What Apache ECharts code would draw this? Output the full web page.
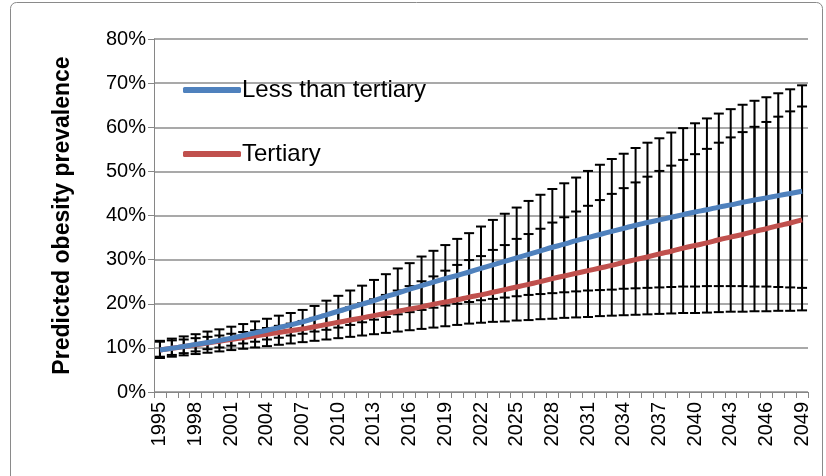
<!DOCTYPE html>
<html><head><meta charset="utf-8">
<script src="https://cdn.jsdelivr.net/npm/echarts@6/dist/echarts.min.js"></script>
<style>html,body{margin:0;padding:0;background:#fff}#c{width:826px;height:476px}</style>
</head><body><div id="c"></div>
<script>
const years = ['1995','1996','1997','1998','1999','2000','2001','2002','2003','2004','2005','2006','2007','2008','2009','2010','2011','2012','2013','2014','2015','2016','2017','2018','2019','2020','2021','2022','2023','2024','2025','2026','2027','2028','2029','2030','2031','2032','2033','2034','2035','2036','2037','2038','2039','2040','2041','2042','2043','2044','2045','2046','2047','2048','2049'];
const seriesNames = ['Less than tertiary', 'Tertiary'];
const yTicks = [0, 10, 20, 30, 40, 50, 60, 70, 80];
// Less than tertiary (percent)
const lessMean = [9.5,9.9,10.3,10.8,11.2,11.7,12.2,12.8,13.4,14.0,14.6,15.2,15.9,16.7,17.5,18.3,19.1,19.9,20.7,21.6,22.4,23.3,24.1,24.9,25.7,26.4,27.2,28.0,28.8,29.6,30.4,31.2,32.0,32.8,33.5,34.3,35.0,35.7,36.4,37.1,37.8,38.4,39.0,39.6,40.2,40.8,41.3,41.9,42.4,43.0,43.5,44.0,44.5,45.0,45.5];
const lessUpper = [11.6,12.1,12.6,13.1,13.7,14.2,14.8,15.4,16.0,16.6,17.3,17.9,18.6,19.5,20.7,21.8,23.0,24.1,25.4,26.7,28.0,29.2,30.7,32.0,33.3,34.7,36.0,37.5,39.0,40.4,41.8,43.3,44.7,46.0,47.3,48.6,50.1,51.5,52.8,54.0,55.3,56.5,57.5,58.8,59.8,60.9,62.0,63.1,64.1,65.1,66.0,66.8,67.7,68.6,69.5];
const lessLower = [8.0,8.4,8.8,9.2,9.7,10.1,10.5,11.0,11.4,11.9,12.3,12.8,13.2,13.7,14.1,14.6,15.2,15.8,16.4,17.0,17.6,18.1,18.6,19.1,19.6,20.0,20.4,20.8,21.1,21.4,21.7,22.0,22.2,22.4,22.6,22.8,23.0,23.1,23.2,23.4,23.5,23.6,23.7,23.8,23.9,23.9,24.0,24.0,24.0,24.0,23.9,23.9,23.8,23.7,23.6];
// Tertiary (percent)
const terMean = [9.5,9.9,10.3,10.7,11.1,11.5,11.9,12.3,12.7,13.1,13.5,13.9,14.3,14.8,15.3,15.8,16.3,16.8,17.3,17.8,18.3,18.8,19.3,19.9,20.4,20.9,21.5,22.0,22.6,23.2,23.8,24.4,25.0,25.7,26.3,26.9,27.5,28.1,28.7,29.4,30.0,30.6,31.3,31.9,32.6,33.2,33.8,34.5,35.1,35.7,36.4,37.0,37.7,38.3,39.0];
const terUpper = [11.4,11.7,11.9,12.2,12.5,12.8,13.2,13.6,14.0,14.5,15.0,15.5,16.1,16.8,17.5,18.3,19.2,20.1,21.0,22.0,23.0,24.0,25.1,26.2,27.5,28.8,29.9,30.8,32.2,33.3,34.7,35.8,37.0,38.4,39.6,40.9,42.2,43.5,44.9,46.2,47.5,48.8,50.1,51.3,52.6,53.9,55.1,56.5,57.7,58.9,60.1,61.2,62.4,63.6,64.7];
const terLower = [7.7,8.0,8.3,8.6,8.9,9.2,9.5,9.8,10.1,10.4,10.7,11.0,11.3,11.6,11.9,12.2,12.5,12.8,13.1,13.4,13.7,14.0,14.3,14.6,14.9,15.2,15.5,15.7,15.9,16.0,16.2,16.3,16.5,16.6,16.8,16.9,17.0,17.2,17.3,17.4,17.5,17.6,17.7,17.8,17.9,17.9,18.0,18.1,18.2,18.2,18.3,18.3,18.4,18.4,18.5];

const FONT = 'Liberation Sans';
const errData = years.map((y, i) => [i, lessUpper[i], lessLower[i], terUpper[i], terLower[i]]);

function renderErr(params, api) {
  const i = api.value(0);
  const pts = [1, 2, 3, 4].map(k => api.coord([i, api.value(k)]));
  const x = pts[0][0];
  const hw = 5;
  const style = { stroke: '#000', lineWidth: 2 };
  const children = [];
  children.push({ type: 'line', shape: { x1: x, y1: pts[0][1], x2: x, y2: pts[1][1] }, style });
  children.push({ type: 'line', shape: { x1: x, y1: pts[2][1], x2: x, y2: pts[3][1] }, style });
  pts.forEach(p => children.push({ type: 'line', shape: { x1: x - hw, y1: p[1], x2: x + hw, y2: p[1] }, style }));
  return { type: 'group', children };
}

const chart = echarts.init(document.getElementById('c'), null, { renderer: 'canvas' });
chart.setOption({
  animation: false,
  backgroundColor: '#fff',
  textStyle: { fontFamily: FONT },
  graphic: [{
    type: 'rect', z: -10,
    shape: { x: 10.5, y: 2.5, width: 812, height: 500, r: 6 },
    style: { fill: 'none', stroke: '#8a8a8a', lineWidth: 1 }
  }],
  grid: { left: 154, right: 18, top: 39, bottom: 84 },
  legend: {
    orient: 'vertical', left: 178, top: 73, itemGap: 40,
    itemWidth: 58, itemHeight: 6, icon: 'roundRect',
    textStyle: { fontFamily: FONT, fontSize: 24, color: '#000', padding: [0, 0, 0, -4] },
    data: seriesNames
  },
  xAxis: {
    type: 'category', data: years, boundaryGap: true,
    axisLine: { lineStyle: { color: '#868686', width: 1 } },
    axisTick: { show: true, interval: 0, length: 6, lineStyle: { color: '#868686' } },
    axisLabel: { interval: 2, rotate: 90, fontSize: 20, color: '#000', margin: 10, fontFamily: FONT },
    splitLine: { show: false }
  },
  yAxis: {
    type: 'value', min: 0, max: 80, interval: 10,
    name: 'Predicted obesity prevalence', nameLocation: 'middle', nameGap: 80, nameRotate: 90,
    nameTextStyle: { fontFamily: FONT, fontSize: 23, fontWeight: 'bold', color: '#000' },
    axisLine: { show: true, lineStyle: { color: '#868686', width: 1 } },
    axisTick: { show: true, length: 6, lineStyle: { color: '#868686' } },
    axisLabel: { formatter: '{value}%', fontSize: 20, color: '#000', margin: 8, fontFamily: FONT,
      customValues: yTicks },
    splitLine: { lineStyle: { color: '#8c8c8c', width: 1.5 } }
  },
  series: [
    { type: 'custom', name: 'err', renderItem: renderErr, data: errData, z: 2, silent: true,
      encode: { x: 0, y: [1, 2, 3, 4] } },
    { type: 'line', name: seriesNames[0], data: lessMean, smooth: true, showSymbol: false, symbol: 'none', z: 5,
      lineStyle: { color: '#4F81BD', width: 5 }, itemStyle: { color: '#4F81BD' } },
    { type: 'line', name: seriesNames[1], data: terMean, smooth: true, showSymbol: false, symbol: 'none', z: 4,
      lineStyle: { color: '#C0504D', width: 5 }, itemStyle: { color: '#C0504D' } }
  ]
});
</script></body></html>
